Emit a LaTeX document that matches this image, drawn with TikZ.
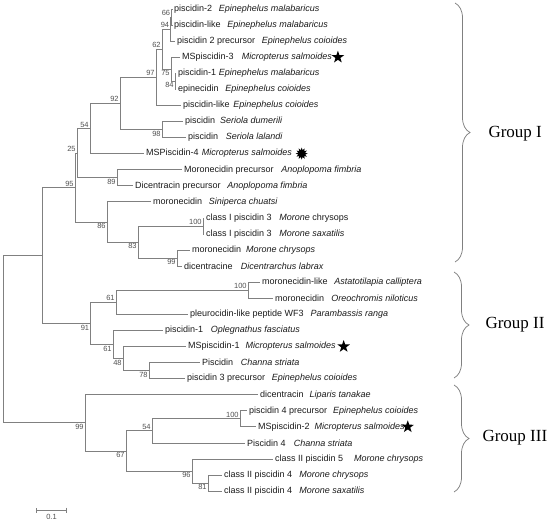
\documentclass[tikz,border=0pt]{standalone}
\usepackage{fontspec}
\newfontfamily\arialf{Liberation Sans}
\newfontfamily\timesf{Liberation Serif}
\usetikzlibrary{arrows.meta, positioning, shapes.geometric, decorations.pathreplacing}
\definecolor{tline}{HTML}{808080}
\definecolor{tboot}{HTML}{505050}
\definecolor{ttext}{HTML}{1A1A1A}
\newcommand{\taxon}[3][0.75em]{#2\hspace{#1}\textit{#3}}
\tikzset{
  branch/.style={draw=tline, line width=0.75pt},
  leaf/.style={anchor=west, inner xsep=2pt, inner ysep=1pt, text=ttext,
               font=\arialf\fontsize{9}{10}\selectfont},
  boot/.style={text=tboot, inner sep=1.2pt, font=\arialf\fontsize{7.5}{8}\selectfont},
  mark5/.style={star, star points=5, star point ratio=2.5, fill=black,
                inner sep=0pt, minimum size=13pt},
  mark12/.style={star, star points=12, star point ratio=1.7, fill=black,
                 inner sep=0pt, minimum size=12pt},
  grp/.style={decorate, decoration={brace, amplitude=15pt}, draw=tline, line width=0.75pt},
  grplabel/.style={anchor=west, text=black, font=\timesf\fontsize{17}{20}\selectfont},
}

\begin{document}
\begin{tikzpicture}[x=1pt, y=-1pt]
  \useasboundingbox (0,0) rectangle (550,530);

  %% ── leaves ──
  \node[leaf] (l1)  at (172,9.0)   {\taxon{piscidin-2}{Epinephelus malabaricus}};
  \node[leaf] (l2)  at (172,25.1)  {\taxon{piscidin-like}{Epinephelus malabaricus}};
  \node[leaf] (l3)  at (175,41.1)  {\taxon{piscidin 2 precursor}{Epinephelus coioides}};
  \node[leaf] (l4)  at (180,57.2)  {\taxon[0.9em]{MSpiscidin-3}{Micropterus salmoides}};
  \node[leaf] (l5)  at (176,73.3)  {\taxon[0.3em]{piscidin-1}{Epinephelus malabaricus}};
  \node[leaf] (l6)  at (176,89.4)  {\taxon{epinecidin}{Epinephelus coioides}};
  \node[leaf] (l7)  at (181,105.4) {\taxon[0.4em]{piscidin-like}{Epinephelus coioides}};
  \node[leaf] (l8)  at (183,121.5) {\taxon[0.55em]{piscidin}{Seriola dumerili}};
  \node[leaf] (l9)  at (186,137.6) {\taxon[0.85em]{piscidin}{Seriola lalandi}};
  \node[leaf] (l10) at (144,153.6) {\taxon[0.35em]{MSPiscidin-4}{Micropterus salmoides}};
  \node[leaf] (l11) at (182,169.7) {\taxon[0.85em]{Moronecidin precursor}{Anoplopoma fimbria}};
  \node[leaf] (l12) at (133,185.8) {\taxon{Dicentracin precursor}{Anoplopoma fimbria}};
  \node[leaf] (l13) at (151,201.8) {\taxon{moronecidin}{Siniperca chuatsi}};
  \node[leaf] (l14) at (204,217.9) {class I piscidin 3\hspace{0.85em}\textit{Morone} chrysops};
  \node[leaf] (l15) at (204,234.0) {\taxon[0.85em]{class I piscidin 3}{Morone saxatilis}};
  \node[leaf] (l16) at (190,250.1) {\taxon[0.55em]{moronecidin}{Morone chrysops}};
  \node[leaf] (l17) at (182,266.1) {\taxon[0.9em]{dicentracine}{Dicentrarchus labrax}};
  \node[leaf] (l18) at (260,282.2) {\taxon{moronecidin-like}{Astatotilapia calliptera}};
  \node[leaf] (l19) at (273,298.3) {\taxon[0.8em]{moronecidin}{Oreochromis niloticus}};
  \node[leaf] (l20) at (188,314.3) {\taxon{pleurocidin-like peptide WF3}{Parambassis ranga}};
  \node[leaf] (l21) at (163,330.4) {\taxon[0.85em]{piscidin-1}{Oplegnathus fasciatus}};
  \node[leaf] (l22) at (186,346.5) {\taxon[0.65em]{MSpiscidin-1}{Micropterus salmoides}};
  \node[leaf] (l23) at (200,362.5) {\taxon[0.85em]{Piscidin}{Channa striata}};
  \node[leaf] (l24) at (185,378.6) {\taxon{piscidin 3 precursor}{Epinephelus coioides}};
  \node[leaf] (l25) at (258,394.7) {\taxon[0.65em]{dicentracin}{Liparis tanakae}};
  \node[leaf] (l26) at (247,410.8) {\taxon[0.65em]{piscidin 4 precursor}{Epinephelus coioides}};
  \node[leaf] (l27) at (256,426.8) {\taxon[0.55em]{MSpiscidin-2}{Micropterus salmoides}};
  \node[leaf] (l28) at (245,442.9) {\taxon[0.9em]{Piscidin 4}{Channa striata}};
  \node[leaf] (l29) at (273,459.0) {\taxon[1.2em]{class II piscidin 5}{Morone chrysops}};
  \node[leaf] (l30) at (222,475.0) {\taxon[0.8em]{class II piscidin 4}{Morone chrysops}};
  \node[leaf] (l31) at (222,491.1) {\taxon[0.8em]{class II piscidin 4}{Morone saxatilis}};

  %% ── markers ──
  \node[mark5, right=0pt of l4] (s4) {};
  \node[mark12, right=1pt of l10] (s10) {};
  \node[mark5, right=2pt of l22] (s22) {};
  \node[mark5, right=-3pt of l27] (s27) {};

  %% ── internal nodes (bootstrap) ──
  \coordinate[label={[boot]above left:66}]  (a1)  at (171.5,17.0);
  \coordinate[label={[boot]above left:94}]  (a2)  at (170.5,29.1);
  \coordinate[label={[boot]below left:84}]  (a4)  at (175,81.3);
  \coordinate[label={[boot]below left:75}]  (a3)  at (171,69.3);
  \coordinate[label={[boot]above left:62}]  (a5)  at (162,49.2);
  \coordinate[label={[boot]above left:97}]  (a6)  at (156,77.3);
  \coordinate[label={[boot]below left:98}]  (a7)  at (162,129.5);
  \coordinate[label={[boot]above left:92}]  (a8)  at (120,103.4);
  \coordinate[label={[boot]above left:54}]  (a9)  at (90,128.5);
  \coordinate[label={[boot]below left:89}]  (a10) at (117,177.7);
  \coordinate[label={[boot]above left:25}]  (a11) at (77,153.1);
  \coordinate[label={[boot]above left:100}] (a12) at (203,226.0);
  \coordinate[label={[boot]below left:99}]  (a13) at (177,258.1);
  \coordinate[label={[boot]below left:83}]  (a14) at (138,242.0);
  \coordinate[label={[boot]below left:86}]  (a15) at (107,221.9);
  \coordinate[label={[boot]above left:95}]  (a16) at (75,187.5);
  \coordinate[label={[boot]above left:100}] (b1)  at (248,290.2);
  \coordinate[label={[boot]above left:61}]  (b2)  at (116,302.3);
  \coordinate[label={[boot]below left:78}]  (b3)  at (149,370.6);
  \coordinate[label={[boot]below left:48}]  (b4)  at (123,358.5);
  \coordinate[label={[boot]below left:61}]  (b5)  at (113,344.5);
  \coordinate[label={[boot]below left:91}]  (b6)  at (90.5,323.4);
  \coordinate (c0) at (42,255.5);
  \coordinate[label={[boot]above left:100}] (d1)  at (240,418.8);
  \coordinate[label={[boot]above left:54}]  (d2)  at (152,430.8);
  \coordinate[label={[boot]below left:81}]  (d3)  at (208,483.1);
  \coordinate[label={[boot]below left:96}]  (d4)  at (192,471.0);
  \coordinate[label={[boot]below left:67}]  (d5)  at (126,450.9);
  \coordinate[label={[boot]below left:99}]  (d6)  at (85,422.8);
  \coordinate (root) at (3,339.1);

  %% ── branches ──
  \draw[branch] (a1) |- (l1.west)  (a1) |- (l2.west);
  \draw[branch] (a2) |- (a1)       (a2) |- (l3.west);
  \draw[branch] (a4) |- (l5.west)  (a4) |- (l6.west);
  \draw[branch] (a3) |- (l4.west)  (a3) |- (a4);
  \draw[branch] (a5) |- (a2)       (a5) |- (a3);
  \draw[branch] (a6) |- (a5)       (a6) |- (l7.west);
  \draw[branch] (a7) |- (l8.west)  (a7) |- (l9.west);
  \draw[branch] (a8) |- (a6)       (a8) |- (a7);
  \draw[branch] (a9) |- (a8)       (a9) |- (l10.west);
  \draw[branch] (a10) |- (l11.west) (a10) |- (l12.west);
  \draw[branch] (a11) |- (a9)      (a11) |- (a10);
  \draw[branch] (a12) |- (l14.west) (a12) |- (l15.west);
  \draw[branch] (a13) |- (l16.west) (a13) |- (l17.west);
  \draw[branch] (a14) |- (a12)     (a14) |- (a13);
  \draw[branch] (a15) |- (l13.west) (a15) |- (a14);
  \draw[branch] (a16) |- (a11)     (a16) |- (a15);
  \draw[branch] (b1) |- (l18.west) (b1) |- (l19.west);
  \draw[branch] (b2) |- (b1)       (b2) |- (l20.west);
  \draw[branch] (b3) |- (l23.west) (b3) |- (l24.west);
  \draw[branch] (b4) |- (l22.west) (b4) |- (b3);
  \draw[branch] (b5) |- (l21.west) (b5) |- (b4);
  \draw[branch] (b6) |- (b2)       (b6) |- (b5);
  \draw[branch] (c0) |- (a16)      (c0) |- (b6);
  \draw[branch] (d1) |- (l26.west) (d1) |- (l27.west);
  \draw[branch] (d2) |- (d1)       (d2) |- (l28.west);
  \draw[branch] (d3) |- (l30.west) (d3) |- (l31.west);
  \draw[branch] (d4) |- (l29.west) (d4) |- (d3);
  \draw[branch] (d5) |- (d2)       (d5) |- (d4);
  \draw[branch] (d6) |- (l25.west) (d6) |- (d5);
  \draw[branch] (root) |- (c0)     (root) |- (d6);

  %% ── groups ──
  \coordinate (g1t) at (455,3);   \coordinate (g1b) at (455,262);
  \coordinate (g2t) at (454,272); \coordinate (g2b) at (454,378);
  \coordinate (g3t) at (454,385); \coordinate (g3b) at (454,492);
  \draw[grp] (g1t) -- (g1b);
  \draw[grp] (g2t) -- (g2b);
  \draw[grp] (g3t) -- (g3b);
  \node[grplabel] (g1) at (485,134) {Group I};
  \node[grplabel] (g2) at (482,325) {Group II};
  \node[grplabel] (g3) at (479,438) {Group III};

  %% ── scale bar ──
  \coordinate (sb0) at (36,510);
  \coordinate (sb1) at (67,510);
  \draw[branch, {Bar[width=5pt]}-{Bar[width=5pt]}] (sb0) -- (sb1)
    node[boot, midway, below=3pt] (sbl) {0.1};
\end{tikzpicture}
\end{document}
